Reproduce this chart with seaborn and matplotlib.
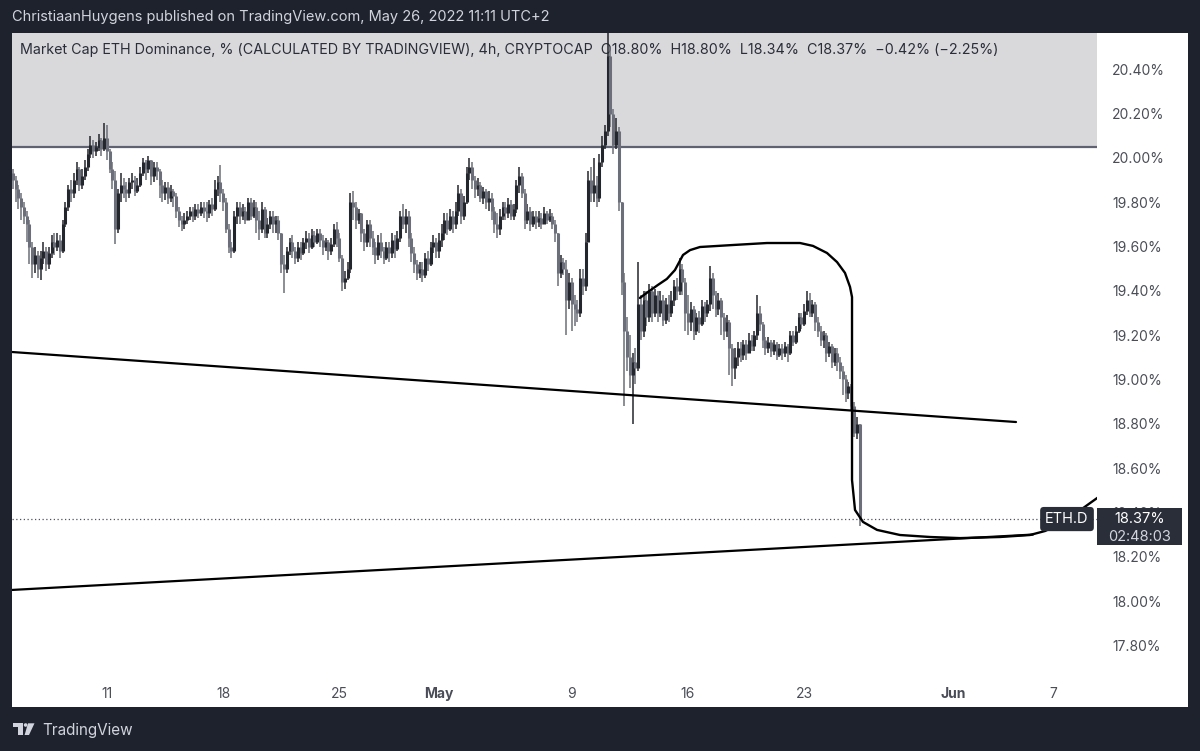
import numpy as np
import pandas as pd
import seaborn as sns
import matplotlib.pyplot as plt
import matplotlib.transforms as mtransforms
from matplotlib.patches import Rectangle, Polygon, Circle

# ---- data: ETH dominance 4h candles, Apr 5 08:00 -> May 26 08:00 ----
start = '2022-04-05 08:00'
first_open = 19.93
closes = [
    19.90, 19.86, 19.82, 19.78,
    19.74, 19.70, 19.60, 19.52, 19.56, 19.50,
    19.55, 19.58, 19.52, 19.57, 19.62, 19.60,
    19.63, 19.58, 19.70, 19.78, 19.86, 19.84,
    19.90, 19.95, 19.88, 19.92, 19.96, 20.02,
    20.06, 20.03, 20.05, 20.08, 20.04, 20.09,
    20.03, 19.95, 19.90, 19.68, 19.84, 19.88,
    19.86, 19.84, 19.89, 19.90, 19.85, 19.88,
    19.93, 19.98, 19.95, 19.99, 19.92, 19.96,
    19.94, 19.88, 19.84, 19.87, 19.82, 19.85,
    19.83, 19.76, 19.72, 19.70, 19.72, 19.74,
    19.76, 19.74, 19.77, 19.75, 19.78, 19.76,
    19.75, 19.79, 19.77, 19.86, 19.89, 19.84,
    19.80, 19.68, 19.60, 19.58, 19.74, 19.78,
    19.74, 19.76, 19.72, 19.80, 19.74, 19.78,
    19.72, 19.68, 19.77, 19.66, 19.70, 19.74,
    19.70, 19.72, 19.66, 19.52, 19.50, 19.58,
    19.62, 19.58, 19.55, 19.60, 19.57, 19.62,
    19.64, 19.60, 19.65, 19.62, 19.66, 19.63,
    19.60, 19.62, 19.58, 19.61, 19.68, 19.64,
    19.55, 19.44, 19.46, 19.50, 19.80, 19.78,
    19.72, 19.75, 19.66, 19.62, 19.70, 19.64,
    19.60, 19.56, 19.62, 19.58, 19.55, 19.60,
    19.57, 19.63, 19.59, 19.64, 19.74, 19.70,
    19.74, 19.64, 19.57, 19.52, 19.48, 19.50,
    19.47, 19.55, 19.52, 19.60, 19.62, 19.58,
    19.63, 19.66, 19.72, 19.68, 19.74, 19.70,
    19.76, 19.84, 19.74, 19.80, 19.93, 19.96,
    19.90, 19.86, 19.88, 19.82, 19.85, 19.80,
    19.82, 19.76, 19.70, 19.68, 19.74, 19.78,
    19.75, 19.79, 19.74, 19.77, 19.88, 19.92,
    19.84, 19.72, 19.76, 19.70, 19.74, 19.71,
    19.73, 19.70, 19.75, 19.72, 19.74, 19.70,
    19.66, 19.48, 19.53, 19.50, 19.36, 19.44,
    19.34, 19.32, 19.30, 19.46, 19.42, 19.62,
    19.90, 19.84, 19.88, 19.82, 19.98, 20.06,
    20.12, 20.46, 20.20, 20.06, 20.12, 19.80,
    19.44, 19.22, 19.10, 19.02, 19.08, 19.05,
    19.34, 19.22, 19.36, 19.28, 19.40, 19.30,
    19.38, 19.30, 19.36, 19.27, 19.34, 19.30,
    19.36, 19.42, 19.40, 19.50, 19.44, 19.30,
    19.26, 19.32, 19.22, 19.28, 19.25, 19.33,
    19.30, 19.34, 19.46, 19.38, 19.32, 19.36,
    19.28, 19.22, 19.26, 19.14, 19.05, 19.10,
    19.14, 19.11, 19.16, 19.12, 19.18, 19.15,
    19.20, 19.30, 19.25, 19.18, 19.14, 19.17,
    19.13, 19.16, 19.11, 19.14, 19.12, 19.15,
    19.12, 19.20, 19.17, 19.22, 19.28, 19.25,
    19.31, 19.36, 19.30, 19.34, 19.26, 19.22,
    19.18, 19.20, 19.12, 19.15, 19.08, 19.12,
    19.08, 19.04, 19.00, 18.94, 18.97, 18.88,
    18.76, 18.80, 18.37,
]
highs = [
    19.95, 19.92, 19.88, 19.84,
    19.80, 19.76, 19.72, 19.62, 19.60, 19.58,
    19.58, 19.62, 19.60, 19.60, 19.65, 19.66,
    19.66, 19.65, 19.72, 19.80, 19.88, 19.90,
    19.93, 19.98, 19.96, 19.95, 19.99, 20.04,
    20.10, 20.08, 20.07, 20.11, 20.09, 20.16,
    20.15, 20.04, 19.98, 19.94, 19.86, 19.93,
    19.91, 19.89, 19.91, 19.93, 19.92, 19.91,
    19.96, 20.00, 19.99, 20.01, 19.99, 19.98,
    19.98, 19.95, 19.90, 19.89, 19.89, 19.88,
    19.86, 19.84, 19.78, 19.74, 19.75, 19.76,
    19.78, 19.78, 19.79, 19.79, 19.80, 19.80,
    19.80, 19.81, 19.82, 19.90, 19.92, 19.97,
    19.86, 19.82, 19.70, 19.62, 19.76, 19.80,
    19.80, 19.79, 19.78, 19.82, 19.82, 19.81,
    19.80, 19.76, 19.80, 19.78, 19.73, 19.76,
    19.76, 19.74, 19.74, 19.66, 19.56, 19.60,
    19.64, 19.65, 19.60, 19.62, 19.62, 19.64,
    19.67, 19.66, 19.68, 19.67, 19.68, 19.68,
    19.65, 19.64, 19.63, 19.64, 19.70, 19.71,
    19.66, 19.56, 19.49, 19.53, 19.84, 19.85,
    19.80, 19.77, 19.75, 19.68, 19.72, 19.72,
    19.67, 19.62, 19.65, 19.66, 19.60, 19.62,
    19.62, 19.66, 19.65, 19.67, 19.76, 19.79,
    19.77, 19.76, 19.66, 19.60, 19.54, 19.53,
    19.53, 19.57, 19.58, 19.62, 19.65, 19.64,
    19.66, 19.70, 19.75, 19.75, 19.77, 19.76,
    19.80, 19.88, 19.86, 19.83, 19.96, 20.00,
    19.98, 19.92, 19.91, 19.89, 19.87, 19.86,
    19.85, 19.84, 19.78, 19.75, 19.77, 19.80,
    19.80, 19.82, 19.81, 19.79, 19.90, 19.96,
    19.93, 19.86, 19.79, 19.78, 19.76, 19.76,
    19.76, 19.75, 19.78, 19.76, 19.77, 19.75,
    19.72, 19.64, 19.56, 19.55, 19.54, 19.48,
    19.46, 19.38, 19.36, 19.50, 19.50, 19.66,
    19.94, 19.96, 20.00, 19.92, 20.02, 20.10,
    20.15, 20.70, 20.50, 20.22, 20.18, 20.14,
    19.80, 19.48, 19.28, 19.20, 19.12, 19.14,
    19.53, 19.38, 19.40, 19.40, 19.43, 19.42,
    19.41, 19.40, 19.40, 19.38, 19.37, 19.38,
    19.40, 19.45, 19.46, 19.55, 19.52, 19.46,
    19.38, 19.35, 19.33, 19.30, 19.31, 19.36,
    19.35, 19.36, 19.51, 19.48, 19.40, 19.39,
    19.37, 19.30, 19.29, 19.27, 19.16, 19.14,
    19.17, 19.17, 19.18, 19.18, 19.21, 19.20,
    19.22, 19.38, 19.33, 19.26, 19.19, 19.19,
    19.18, 19.18, 19.17, 19.16, 19.16, 19.17,
    19.16, 19.22, 19.22, 19.24, 19.30, 19.30,
    19.34, 19.40, 19.39, 19.36, 19.35, 19.28,
    19.24, 19.22, 19.21, 19.17, 19.16, 19.14,
    19.14, 19.10, 19.06, 19.02, 18.99, 18.98,
    18.90, 18.83, 18.80,
]
lows = [
    19.86, 19.80, 19.77, 19.72,
    19.70, 19.62, 19.52, 19.46, 19.48, 19.46,
    19.45, 19.52, 19.49, 19.50, 19.55, 19.56,
    19.58, 19.55, 19.57, 19.69, 19.76, 19.80,
    19.82, 19.88, 19.85, 19.86, 19.90, 19.94,
    20.00, 20.00, 20.01, 20.03, 20.01, 20.03,
    19.99, 19.93, 19.86, 19.61, 19.66, 19.80,
    19.82, 19.80, 19.82, 19.86, 19.83, 19.84,
    19.87, 19.92, 19.90, 19.93, 19.88, 19.89,
    19.90, 19.82, 19.80, 19.81, 19.79, 19.80,
    19.78, 19.73, 19.69, 19.67, 19.68, 19.70,
    19.72, 19.71, 19.72, 19.73, 19.74, 19.73,
    19.71, 19.73, 19.74, 19.76, 19.83, 19.80,
    19.76, 19.66, 19.57, 19.55, 19.57, 19.70,
    19.70, 19.72, 19.70, 19.72, 19.72, 19.73,
    19.66, 19.63, 19.66, 19.64, 19.64, 19.68,
    19.66, 19.66, 19.63, 19.48, 19.39, 19.48,
    19.56, 19.55, 19.52, 19.53, 19.54, 19.56,
    19.59, 19.57, 19.59, 19.60, 19.61, 19.60,
    19.56, 19.58, 19.54, 19.56, 19.60, 19.60,
    19.53, 19.40, 19.41, 19.45, 19.48, 19.72,
    19.68, 19.70, 19.62, 19.58, 19.60, 19.60,
    19.56, 19.52, 19.54, 19.55, 19.52, 19.54,
    19.53, 19.55, 19.55, 19.58, 19.62, 19.68,
    19.66, 19.60, 19.53, 19.48, 19.45, 19.46,
    19.44, 19.46, 19.49, 19.51, 19.57, 19.55,
    19.55, 19.60, 19.63, 19.65, 19.67, 19.66,
    19.68, 19.74, 19.70, 19.72, 19.79, 19.90,
    19.86, 19.82, 19.83, 19.80, 19.79, 19.77,
    19.76, 19.72, 19.66, 19.64, 19.65, 19.72,
    19.72, 19.73, 19.72, 19.72, 19.75, 19.84,
    19.82, 19.68, 19.70, 19.67, 19.69, 19.68,
    19.69, 19.68, 19.70, 19.70, 19.71, 19.68,
    19.62, 19.42, 19.46, 19.47, 19.20, 19.32,
    19.22, 19.24, 19.26, 19.28, 19.38, 19.40,
    19.62, 19.80, 19.80, 19.78, 19.80, 19.96,
    20.04, 20.10, 20.14, 20.02, 20.04, 19.76,
    19.38, 18.88, 19.04, 18.96, 18.80, 18.98,
    19.04, 19.18, 19.19, 19.24, 19.26, 19.26,
    19.28, 19.26, 19.28, 19.24, 19.25, 19.26,
    19.28, 19.33, 19.36, 19.38, 19.38, 19.22,
    19.20, 19.22, 19.18, 19.20, 19.21, 19.24,
    19.26, 19.28, 19.31, 19.32, 19.28, 19.29,
    19.20, 19.18, 19.19, 19.02, 18.97, 19.00,
    19.06, 19.08, 19.09, 19.09, 19.12, 19.13,
    19.13, 19.18, 19.22, 19.14, 19.11, 19.12,
    19.10, 19.11, 19.09, 19.10, 19.09, 19.10,
    19.08, 19.11, 19.15, 19.16, 19.21, 19.23,
    19.24, 19.29, 19.28, 19.28, 19.22, 19.19,
    19.15, 19.14, 19.08, 19.10, 19.05, 19.06,
    19.04, 19.00, 18.93, 18.90, 18.91, 18.86,
    18.74, 18.73, 18.34,
]
change_abs = -0.42
change_pct = -2.25

# drawings on the chart
upper_line_t = ['2022-04-05 06:45', '2022-06-04 18:15']
upper_line_v = [19.124, 18.808]
lower_line_t = ['2022-04-05 06:45', '2022-06-05 18:45']
lower_line_v = [18.050, 18.300]
curve_t = ['2022-05-13 02:30', '2022-05-13 14:10', '2022-05-14 04:40', '2022-05-14 17:30',
           '2022-05-15 05:10', '2022-05-15 16:50', '2022-05-16 03:00', '2022-05-16 17:20',
           '2022-05-18 17:00', '2022-05-20 18:15', '2022-05-22 18:00', '2022-05-23 12:40',
           '2022-05-24 09:00', '2022-05-24 23:30', '2022-05-25 11:00', '2022-05-25 18:15',
           '2022-05-25 21:10', '2022-05-25 21:10', '2022-05-25 21:10', '2022-05-26 01:30',
           '2022-05-26 13:00', '2022-05-27 09:20', '2022-05-28 18:30', '2022-05-30 13:55',
           '2022-06-01 09:20', '2022-06-03 19:10', '2022-06-05 14:25', '2022-06-06 12:10',
           '2022-06-07 09:50', '2022-06-08 07:30', '2022-06-09 05:15', '2022-06-09 19:40']
curve_v = [19.368, 19.395, 19.427, 19.454, 19.494, 19.562, 19.584, 19.598,
           19.607, 19.616, 19.616, 19.603, 19.571, 19.530, 19.481, 19.418,
           19.372, 18.907, 18.546, 18.411, 18.357, 18.321, 18.298, 18.289,
           18.284, 18.289, 18.298, 18.316, 18.348, 18.393, 18.442, 18.474]
zone_bottom = 20.05

yticks = [17.8, 18.0, 18.2, 18.4, 18.6, 18.8, 19.0, 19.2, 19.4, 19.6, 19.8, 20.0, 20.2, 20.4]
xtick_dates = ['2022-04-11', '2022-04-18', '2022-04-25', '2022-05-01', '2022-05-09',
               '2022-05-16', '2022-05-23', '2022-06-01', '2022-06-07']
xtick_labels = ['11', '18', '25', 'May', '9', '16', '23', 'Jun', '7']

UP = '#24262d'
DOWN = '#6c6f79'
DARK = '#1e222d'
W, H = 1200, 751

sns.set_theme(style='white')
plt.rcParams['font.family'] = ['Inter', 'DejaVu Sans']

fig = plt.figure(figsize=(W / 100, H / 100), dpi=100, facecolor=DARK)
fig.add_artist(Rectangle((12 / W, 1 - 707 / H), 1176 / W, 674 / H,
                         transform=fig.transFigure, fc='white', ec='none', zorder=-1))
ax = fig.add_axes([12 / W, 1 - 679 / H, 1085 / W, 646 / H])
ax.set_facecolor('white')
for s in ax.spines.values():
    s.set_visible(False)

times = pd.date_range(start, periods=len(closes), freq='4h')
c = np.array(closes)
o = np.r_[first_open, c[:-1]]
hi = np.maximum(np.array(highs), np.maximum(o, c))
lo = np.minimum(np.array(lows), np.minimum(o, c))
cols = np.where(c >= o, UP, DOWN)

ax.axhspan(zone_bottom, 21, color='#d9d9dc', lw=0, zorder=0)
ax.axhline(zone_bottom, color='#5f6270', lw=1.6, zorder=1)

ax.vlines(times, lo, hi, colors=cols, lw=1.1, zorder=3)
ax.vlines(times, np.minimum(o, c), np.maximum(o, c), colors=cols, lw=2.2, zorder=3)

ax.axhline(c[-1], color='#50535e', lw=0.9, ls=(0, (1, 2)), zorder=2)

sns.lineplot(x=pd.to_datetime(upper_line_t), y=upper_line_v, color='black', lw=1.6,
             estimator=None, sort=False, ax=ax, zorder=4)
sns.lineplot(x=pd.to_datetime(lower_line_t), y=lower_line_v, color='black', lw=1.6,
             estimator=None, sort=False, ax=ax, zorder=4)
sns.lineplot(x=pd.to_datetime(curve_t), y=curve_v, color='black', lw=1.7,
             estimator=None, sort=False, ax=ax, zorder=4)

ax.set_xlim(pd.Timestamp('2022-04-05 06:45'), pd.Timestamp('2022-06-09 15:20'))
ax.set_ylim(17.648, 20.564)

ax.yaxis.tick_right()
ax.set_yticks(yticks)
ax.set_yticklabels(['{:.2f}%'.format(v) for v in yticks])
ax.tick_params(axis='y', length=0, pad=11, labelsize=10, labelcolor='#4a4d57')
ax.set_xticks(pd.to_datetime(xtick_dates))
ax.set_xticklabels(xtick_labels)
ax.tick_params(axis='x', length=0, pad=6, labelsize=10, labelcolor='#4a4d57')
for t in ax.get_xticklabels():
    if t.get_text() in ('May', 'Jun'):
        t.set_fontweight('bold')
ax.set_xlabel('')
ax.set_ylabel('')

# legend line of the symbol
header = ('Market Cap ETH Dominance, % (CALCULATED BY TRADINGVIEW), 4h, CRYPTOCAP  '
          'O{:.2f}%  H{:.2f}%  L{:.2f}%  C{:.2f}%  \u2212{:.2f}% (\u2212{:.2f}%)'.format(
              o[-1], hi[-1], lo[-1], c[-1], abs(change_abs), abs(change_pct)))
ax.text(8 / 1085, 1 - 17 / 646, header, transform=ax.transAxes, fontsize=10.3,
        color='#2a2e39', va='center', ha='left', zorder=2)

# price labels on the right
blend = mtransforms.blended_transform_factory(ax.transAxes, ax.transData)
ax.text(1055 / 1085, c[-1], 'ETH.D', transform=blend, ha='center', va='center',
        color='white', fontsize=10.5, zorder=7,
        bbox=dict(boxstyle='round,pad=0.35,rounding_size=0.25', fc='#2a2e39', ec='none'))
ax.add_patch(Rectangle((1.0, 18.253), 85 / 1085, 0.167, transform=blend,
                       fc='#2a2e39', ec='none', clip_on=False, zorder=6))
ax.text(1127.5 / 1085, c[-1], '{:.2f}%'.format(c[-1]), transform=blend, ha='center',
        va='center', color='white', fontsize=10.5, zorder=7)
ax.text(1127.5 / 1085, 18.29, '02:48:03', transform=blend, ha='center',
        va='center', color='#d1d4dc', fontsize=10.5, zorder=7)

# frame texts
fig.text(12 / W, 1 - 17 / H, 'ChristiaanHuygens published on TradingView.com, May 26, 2022 11:11 UTC+2',
         color='#d1d4dc', fontsize=10.5, va='center', ha='left')
fig.text(42 / W, 1 - 730 / H, 'TradingView', color='#d1d4dc', fontsize=11,
         va='center', ha='left')
px = mtransforms.Affine2D().scale(1 / W, -1 / H).translate(0, 1) + fig.transFigure
fig.add_artist(Polygon([(12.7, 723.3), (23.3, 723.3), (23.3, 735), (18.3, 735),
                        (18.3, 726.7), (12.7, 726.7)], closed=True, transform=px,
                       fc='#d1d4dc', ec='none'))
fig.add_artist(Circle((25.6, 725.0), 1.8, transform=px, fc='#d1d4dc', ec='none'))
fig.add_artist(Polygon([(28.0, 723.3), (34.5, 723.3), (29.0, 735), (24.6, 735)],
                       closed=True, transform=px, fc='#d1d4dc', ec='none'))

plt.savefig('out.png', dpi=100, facecolor=DARK)
